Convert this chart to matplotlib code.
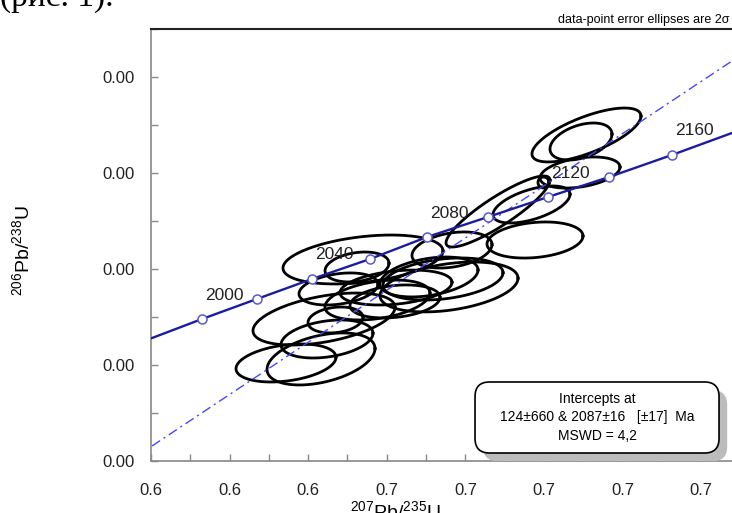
import numpy as np
import matplotlib
matplotlib.use('Agg')
import matplotlib.pyplot as plt
from matplotlib.patches import FancyBboxPatch
from matplotlib.ticker import MultipleLocator, FormatStrFormatter

plt.rcParams['font.family'] = ['Liberation Sans', 'DejaVu Sans']
plt.rcParams['mathtext.fontset'] = 'custom'
plt.rcParams['mathtext.rm'] = 'Liberation Sans'
plt.rcParams['mathtext.it'] = 'Liberation Sans:italic'

# analyses: 207Pb/235U, 206Pb/238U (x1e-3), 2 sigma errors, error correlation
pb207_u235 = [0.71081, 0.70941, 0.70916, 0.69987, 0.69682, 0.68830, 0.69771,
              0.67659, 0.65394, 0.65242, 0.67074, 0.67430, 0.67583, 0.64771,
              0.66234, 0.65763, 0.66209, 0.64695, 0.64402, 0.63435, 0.64326,
              0.64478]
err_207 = [0.01387, 0.00789, 0.01018, 0.00140, 0.00980, 0.01323, 0.01221,
           0.01018, 0.02036, 0.00814, 0.01247, 0.01527, 0.01756, 0.01005,
           0.01425, 0.01336, 0.01145, 0.00700, 0.01807, 0.01272, 0.01374,
           0.01170]
pb206_u238 = [3.396, 3.328, 3.005, 2.901, 2.672, 2.599, 2.302,
              2.198, 2.099, 2.021, 1.917, 1.896, 1.813, 1.792,
              1.807, 1.677, 1.662, 1.469, 1.479, 1.021, 1.063,
              1.271]
err_206 = [0.281, 0.193, 0.162, 0.057, 0.193, 0.370, 0.188,
           0.188, 0.255, 0.156, 0.208, 0.219, 0.260, 0.167,
           0.182, 0.208, 0.172, 0.135, 0.271, 0.198, 0.271,
           0.198]
rho = [0.70, 0.40, 0.35, 0.0, 0.55, 0.88, 0.22,
       0.30, 0.35, 0.25, 0.35, 0.30, 0.35, 0.30,
       0.30, 0.35, 0.25, 0.20, 0.45, 0.30, 0.40,
       0.30]

# concordia ticks (Ma)
conc_age = [2000, 2020, 2040, 2060, 2080, 2100, 2120, 2140, 2160]
conc_x = [0.61298, 0.62697, 0.64097, 0.65573, 0.67023, 0.68575, 0.70102, 0.71654, 0.73257]
conc_y = [1.479, 1.688, 1.896, 2.104, 2.333, 2.542, 2.750, 2.958, 3.188]
# concordia curve beyond the labelled ages
curve_x = [0.60025] + conc_x + [0.74784]
curve_y = [1.281] + conc_y + [3.417]
# discordia through the intercepts
disc_x = [0.60025, 0.74784]
disc_y = [0.156, 4.167]

x_ticks = [0.60, 0.62, 0.64, 0.66, 0.68, 0.70, 0.72, 0.74]
y_ticks = [0.000, 0.001, 0.002, 0.003, 0.004]


def main():
    fig = plt.figure(figsize=(7.32, 5.13), dpi=100)
    ax = fig.add_axes([151/732, 1 - 461/513, 581/732, 432/513])

    t = np.linspace(0, 2*np.pi, 200)
    for x, sx, y, sy, r in zip(pb207_u235, err_207, pb206_u238, err_206, rho):
        ex = x + sx*np.cos(t)
        ey = y + sy*(r*np.cos(t) + np.sqrt(1 - r*r)*np.sin(t))
        ax.plot(ex, ey*1e-3, color='black', lw=2.0, zorder=2)

    ax.plot(disc_x, np.array(disc_y)*1e-3, color='#4646ff', lw=1.0,
            ls=(0, (7, 3, 1.5, 3)), zorder=3)
    ax.plot(curve_x, np.array(curve_y)*1e-3, color='#1c1c9e', lw=1.7, zorder=4)
    ax.plot(conc_x, np.array(conc_y)*1e-3, 'o', ms=6.5, mfc='white',
            mec='#5a5ac8', mew=1.1, zorder=5)
    for age, x, y in zip(conc_age, conc_x, conc_y):
        if age % 40 == 0:
            ax.annotate(str(age), (x, y*1e-3), xytext=(22, 24),
                        textcoords='offset pixels', ha='center', va='center',
                        fontsize=12.5, color='#222222', zorder=6)

    ax.set_xlim(0.60, 0.74784)
    ax.set_ylim(0, 0.0045)
    ax.set_xticks(x_ticks)
    ax.set_yticks(y_ticks)
    ax.xaxis.set_major_formatter(FormatStrFormatter('%.1f'))
    ax.yaxis.set_major_formatter(FormatStrFormatter('%.2f'))
    ax.xaxis.set_minor_locator(MultipleLocator(0.01))
    ax.yaxis.set_minor_locator(MultipleLocator(0.0005))
    ax.tick_params(which='both', direction='in', color='#888888', length=5,
                   width=1, top=False, right=False)
    ax.tick_params(axis='x', which='major', pad=16, labelsize=12, labelcolor='#222222')
    ax.tick_params(axis='y', which='major', pad=12, labelsize=12, labelcolor='#222222')
    ax.spines['right'].set_visible(False)
    ax.spines['top'].set_color('#222222')
    ax.spines['top'].set_linewidth(1.5)
    for s in ('left', 'bottom'):
        ax.spines[s].set_color('#888888')
        ax.spines[s].set_linewidth(1.2)

    # result box with shadow
    shadow = FancyBboxPatch((0.5577 + 0.014, 0.0185 - 0.019), 0.42, 0.1644,
                            boxstyle='round,pad=0,rounding_size=0.025',
                            transform=ax.transAxes, fc='#bcbcbc', ec='none',
                            zorder=7, mutation_aspect=1.35)
    box = FancyBboxPatch((0.5577, 0.0185), 0.42, 0.1644,
                         boxstyle='round,pad=0,rounding_size=0.025',
                         transform=ax.transAxes, fc='white', ec='black', lw=1.2,
                         zorder=8, mutation_aspect=1.35)
    ax.add_patch(shadow)
    ax.add_patch(box)
    ax.text(0.5577 + 0.21, 0.0185 + 0.0822,
            'Intercepts at\n124±660 & 2087±16   [±17]  Ma\nMSWD = 4,2',
            transform=ax.transAxes, ha='center', va='center', fontsize=10,
            linespacing=1.45, zorder=9)

    fig.text(729/732, 1 - 20/513, 'data-point error ellipses are 2σ',
             ha='right', va='center', fontsize=9)
    fig.text(22/732, 1 - 251/513, r'$^{206}$Pb/$^{238}$U', rotation=90,
             ha='center', va='center', fontsize=14)
    fig.text(395/732, -5/513, r'$^{207}$Pb/$^{235}$U', ha='center',
             va='baseline', fontsize=14)
    # cut-off line of the surrounding document
    fig.text(0, 1 - 6/513, '(рис. 1).', family='Liberation Serif',
             fontsize=24, va='baseline', ha='left')

    fig.savefig('out.png', dpi=100)


if __name__ == '__main__':
    main()
